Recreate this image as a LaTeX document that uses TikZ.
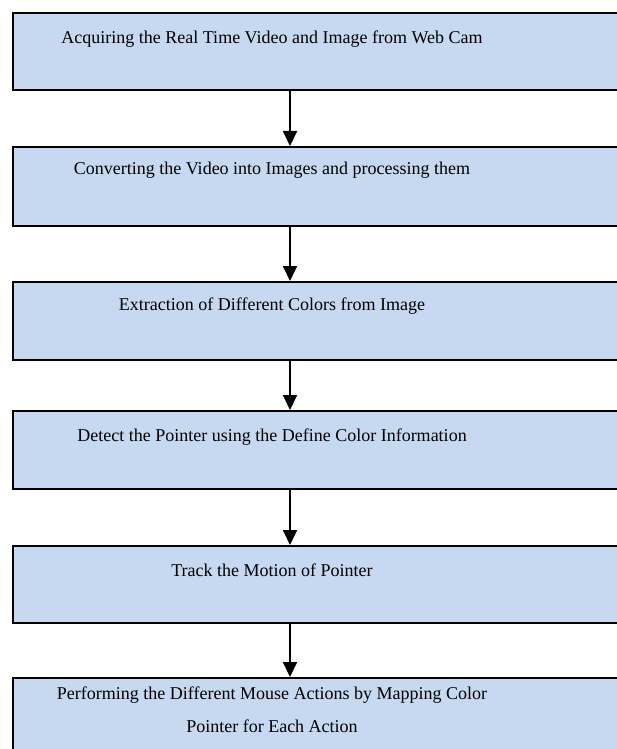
\documentclass[tikz,border=0pt]{standalone}
\usepackage{fontspec}
\setmainfont{Liberation Serif}
\usetikzlibrary{arrows.meta}
\definecolor{boxfill}{HTML}{C6D9F1}
\begin{document}
\begin{tikzpicture}[x=1pt,y=-1pt,
  box/.style={draw=black, line width=1.8pt, fill=boxfill, anchor=north west, minimum width=660pt, inner sep=0pt},
  lbl/.style={font=\fontsize{18}{33}\selectfont, align=center, inner sep=0pt},
  arr/.style={line width=1.8pt, -{Triangle[width=14pt,length=15pt]}}]
\useasboundingbox (0,0) rectangle (617,749);
\fill[white] (0,0) rectangle (617,749);
\clip (0,0) rectangle (617,749);
\node[box, minimum height=77pt] (b1) at (12,12) {};
\node[box, minimum height=79pt] (b2) at (12,146) {};
\node[box, minimum height=78pt] (b3) at (12,281) {};
\node[box, minimum height=78pt] (b4) at (12,410) {};
\node[box, minimum height=77pt] (b5) at (12,545) {};
\node[box, minimum height=90pt] (b6) at (12,677) {};
\node[lbl] (t1) at (272,39) {Acquiring the Real Time Video and Image from Web Cam};
\node[lbl] (t2) at (272,170) {Converting the Video into Images and processing them};
\node[lbl] (t3) at (272,306) {Extraction of Different Colors from Image};
\node[lbl] (t4) at (272,437) {Detect the Pointer using the Define Color Information};
\node[lbl] (t5) at (272,570) {Track the Motion of Pointer};
\node[lbl] (t6) at (272,710) {Performing the Different Mouse Actions by Mapping Color\\Pointer for Each Action};
\coordinate (ax) at (290,0);
\draw[arr] (b1.south -| ax) -- (b2.north -| ax);
\draw[arr] (b2.south -| ax) -- (b3.north -| ax);
\draw[arr] (b3.south -| ax) -- (b4.north -| ax);
\draw[arr] (b4.south -| ax) -- (b5.north -| ax);
\draw[arr] (b5.south -| ax) -- (b6.north -| ax);
\end{tikzpicture}
\end{document}
